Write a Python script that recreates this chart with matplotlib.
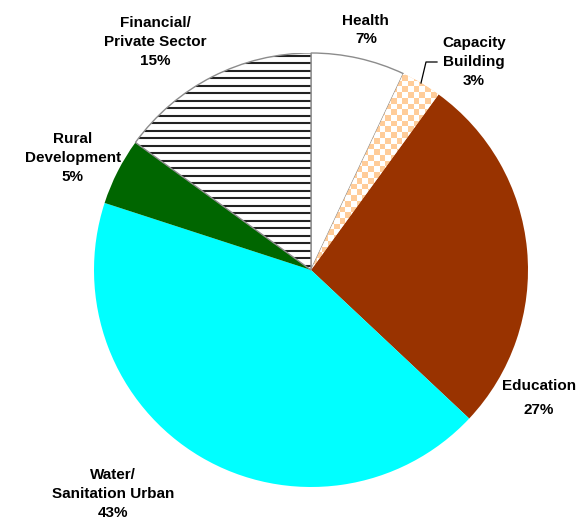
import numpy as np
import matplotlib
matplotlib.use("Agg")
import matplotlib.pyplot as plt
from matplotlib.patches import Wedge

plt.rcParams['font.family'] = ['Liberation Sans', 'DejaVu Sans']

names = ['Health', 'Capacity\nBuilding', 'Education', 'Water/\nSanitation Urban',
         'Rural\nDevelopment', 'Financial/\nPrivate Sector']
shares = [7, 3, 27, 43, 5, 15]
colors = ['#FFFFFF', '#FFCC99', '#993300', '#00FFFF', '#006600', '#FFFFFF']

# label centres in axes data units (pie radius = 1)
label_pos = [(0.253, 1.106), (0.751, 0.959), (1.05, -0.59), (-0.912, -1.032),
             (-1.097, 0.516), (-0.719, 1.051)]

fig = plt.figure(figsize=(5.81, 5.21), dpi=100)
R = 217
cx, cy = 311, 270
ax = fig.add_axes([(cx - R) / 581, (521 - cy - R) / 521, 2 * R / 581, 2 * R / 521])

wedges, _ = ax.pie(shares, colors=colors, startangle=90, counterclock=False,
                   wedgeprops=dict(linewidth=0, edgecolor='none'))

# health: plain white with grey outline
wedges[0].set_edgecolor('#8c8c8c')
wedges[0].set_linewidth(1.0)

# financial: horizontal stripes clipped to the wedge
step = 7.5 / R
ys = np.arange(-1 + step / 2, 1, step)
hl = ax.hlines(ys, -1, 1, colors='#222222', linewidth=1.5, zorder=2)
hl.set_clip_path(wedges[5])
outline = Wedge((0, 0), 1, wedges[5].theta1, wedges[5].theta2,
                facecolor='none', edgecolor='#8c8c8c', linewidth=1.0, zorder=3)
ax.add_patch(outline)

# capacity building: peach/white checkerboard clipped to the wedge
n = 76
checker = (np.add.outer(np.arange(n), np.arange(n)) % 2).astype(float)
cmap = matplotlib.colors.ListedColormap(['#FFCC99', '#FFFFFF'])
im = ax.imshow(checker, cmap=cmap, extent=(-1, 1, -1, 1), interpolation='nearest', zorder=2)
im.set_clip_path(wedges[1])

ax.set_xlim(-1, 1)
ax.set_ylim(-1, 1)
ax.set_aspect('auto')
ax.axis('off')

for name, share, (x, y) in zip(names, shares, label_pos):
    ls = 1.9 if name == 'Education' else 1.45
    ax.text(x, y, f'{name}\n{share}%', ha='center', va='center', fontsize=11,
            fontweight='bold', linespacing=ls, clip_on=False)

# leader line for capacity building
ax.plot([(421 - cx) / R, (426 - cx) / R, (437 - cx) / R],
        [(cy - 83) / R, (cy - 62) / R, (cy - 62) / R],
        color='black', linewidth=0.9, clip_on=False)

fig.savefig('out.png', dpi=100)
